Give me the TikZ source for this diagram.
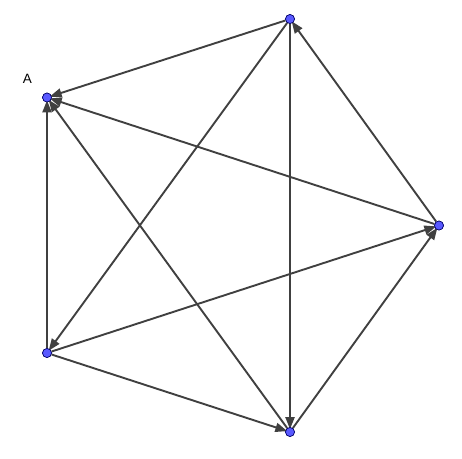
\documentclass[tikz,border=0pt]{standalone}
\usepackage{fontspec}
\setmainfont{Liberation Sans}
\usetikzlibrary{arrows.meta}
\begin{document}
\begin{tikzpicture}[x=1pt,y=-1pt,
    pt/.style={circle,draw=blue!40!black,fill=blue!65!white,inner sep=0pt,minimum size=9pt,line width=0.6pt},
    vec/.style={line width=1.9pt,draw=black!75,-{Triangle[length=12pt,width=9pt]},shorten >=-2pt}]
    \useasboundingbox (0,0) rectangle (462,458);
    \node[pt] (a) at (47,97.5) {};
    \node[pt] (t) at (290,19) {};
    \node[pt] (r) at (439,225.5) {};
    \node[pt] (l) at (47,353) {};
    \node[pt] (b) at (290,432) {};
    \node[font=\fontsize{13.5}{15}\selectfont] (la) at (27.5,78.5) {A};
    \draw[vec] (t) -- (a);
    \draw[vec] (r) -- (a);
    \draw[vec] (b) -- (a);
    \draw[vec] (l) -- (a);
    \draw[vec] (t) -- (l);
    \draw[vec] (t) -- (b);
    \draw[vec] (r) -- (t);
    \draw[vec] (l) -- (r);
    \draw[vec] (b) -- (r);
    \draw[vec] (l) -- (b);
    % dots on top
    \foreach \p in {a,t,r,l,b} \node[pt] at (\p) {};
\end{tikzpicture}
\end{document}
